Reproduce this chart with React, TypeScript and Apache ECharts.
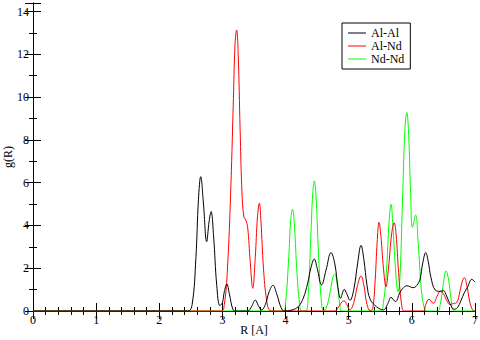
import React, { useEffect, useRef } from "react";
import * as echarts from "echarts";

const seriesNames = ["Al-Al", "Al-Nd", "Nd-Nd"];
const seriesColors = ["#000000", "#ff0000", "#00ff00"];

const alAl: [number, number][] = [
  [0, 0], [2.45, 0], [2.52, 0.3], [2.58, 2.5], [2.62, 5.2], [2.656, 6.28], [2.7, 5.0], [2.75, 3.24],
  [2.79, 4.2], [2.82, 4.65], [2.86, 3.5], [2.91, 1.2], [2.96, 0.25], [3.0, 0.4], [3.03, 0.9], [3.07, 1.26],
  [3.11, 0.8], [3.17, 0.05], [3.22, 0], [3.4, 0], [3.46, 0.2], [3.52, 0.51], [3.57, 0.25], [3.62, 0.05],
  [3.68, 0.3], [3.74, 0.9], [3.8, 1.2], [3.86, 0.8], [3.93, 0.15], [3.98, 0], [4.1, 0.05], [4.2, 0.2],
  [4.28, 0.6], [4.35, 1.3], [4.4, 2.0], [4.455, 2.43], [4.5, 2.0], [4.57, 1.22], [4.64, 1.9], [4.72, 2.73],
  [4.78, 2.2], [4.83, 1.1], [4.87, 0.6], [4.93, 1.01], [4.97, 0.8], [5.02, 0.5], [5.08, 1.0], [5.14, 2.2],
  [5.195, 3.07], [5.24, 2.4], [5.29, 1.2], [5.34, 0.55], [5.44, 0.2], [5.55, 0.05], [5.62, 0.35], [5.67, 0.64],
  [5.74, 0.44], [5.81, 0.86], [5.87, 1.1], [5.92, 1.18], [6.02, 1.09], [6.08, 1.2], [6.13, 1.5], [6.17, 2.2],
  [6.22, 2.73], [6.26, 2.3], [6.3, 1.6], [6.37, 0.98], [6.45, 0.92], [6.5, 0.95], [6.55, 0.7], [6.6, 0.36],
  [6.67, 0.08], [6.72, 0.15], [6.78, 0.5], [6.83, 0.85], [6.88, 1.1], [6.95, 1.48], [7.0, 1.35],
];

const alNd: [number, number][] = [
  [0, 0], [2.98, 0], [3.03, 0.3], [3.08, 2.0], [3.13, 5.5], [3.17, 9.5], [3.2, 12.5], [3.225, 13.14],
  [3.25, 12.0], [3.28, 8.5], [3.31, 5.5], [3.34, 4.4], [3.37, 4.25], [3.4, 3.9], [3.44, 2.3], [3.48, 1.06],
  [3.52, 2.5], [3.555, 4.4], [3.585, 5.04], [3.61, 4.2], [3.65, 2.0], [3.7, 0.5], [3.75, 0.02], [3.8, 0],
  [4.78, 0], [4.84, 0.2], [4.9, 0.45], [4.93, 0.47], [4.97, 0.3], [5.02, 0.05], [5.08, 0.4], [5.14, 1.2],
  [5.195, 1.64], [5.24, 1.2], [5.29, 0.3], [5.34, 0.02], [5.38, 0.1], [5.42, 1.5], [5.45, 3.2], [5.48, 4.15],
  [5.51, 3.5], [5.55, 2.0], [5.59, 1.14], [5.63, 2.0], [5.68, 3.6], [5.72, 4.13], [5.75, 3.6], [5.79, 1.8],
  [5.84, 0.25], [5.88, 0], [6.18, 0], [6.22, 0.3], [6.27, 0.55], [6.34, 0.36], [6.4, 0.7], [6.45, 0.92],
  [6.5, 0.8], [6.56, 0.45], [6.6, 0.3], [6.66, 0.35], [6.71, 0.39], [6.76, 0.9], [6.8, 1.4], [6.83, 1.56],
  [6.87, 1.2], [6.92, 0.4], [6.97, 0.02], [7.0, 0],
];

const ndNd: [number, number][] = [
  [0, 0], [3.96, 0], [4.0, 0.4], [4.05, 2.5], [4.08, 4.2], [4.11, 4.76], [4.14, 4.0], [4.18, 1.8],
  [4.22, 0.4], [4.255, 0], [4.32, 0], [4.36, 0.8], [4.4, 3.5], [4.43, 5.5], [4.455, 6.08], [4.48, 5.5],
  [4.52, 2.8], [4.56, 0.7], [4.6, 0.02], [4.64, 0.1], [4.7, 0.8], [4.75, 1.6], [4.78, 1.73], [4.82, 1.2],
  [4.86, 0.3], [4.89, 0], [5.5, 0], [5.55, 0.4], [5.6, 2.0], [5.64, 4.2], [5.67, 4.99], [5.7, 4.0],
  [5.74, 2.0], [5.78, 0.9], [5.81, 1.5], [5.85, 5.0], [5.89, 8.5], [5.92, 9.28], [5.95, 8.2], [5.98, 5.5],
  [6.01, 3.91], [6.06, 4.49], [6.1, 3.2], [6.15, 1.0], [6.2, 0.1], [6.23, 0], [6.41, 0], [6.45, 0.3],
  [6.5, 1.3], [6.54, 1.87], [6.58, 1.5], [6.62, 0.6], [6.67, 0], [7, 0],
];

const seriesData = [alAl, alNd, ndNd];

const X_MIN = 0;
const X_MAX = 7;
const Y_MIN = 0;
const Y_MAX = 14.4;
const xTitle = "R [A]";
const yTitle = "g(R)";

const FONT = "Liberation Serif";

export default function App() {
  const ref = useRef<HTMLDivElement>(null);
  useEffect(() => {
    if (!ref.current) return;
    const chart = echarts.init(ref.current, undefined, { renderer: "svg" });
    const tickCommon = {
      axisLine: { show: true, lineStyle: { color: "#000", width: 1 } },
      axisTick: { show: true, inside: true, length: 8, lineStyle: { color: "#000", width: 1 } },
      minorTick: { show: true, length: 4, lineStyle: { color: "#000", width: 1 } },
      splitLine: { show: false },
    };
    chart.setOption({
      animation: false,
      backgroundColor: "#ffffff",
      textStyle: { fontFamily: FONT },
      grid: { left: 33, right: 5, top: 3, bottom: 29, containLabel: false, outerBoundsMode: "none" },
      legend: {
        left: 342,
        top: 23,
        orient: "vertical",
        icon: "rect",
        itemWidth: 18,
        itemHeight: 1,
        itemGap: 1,
        padding: [4, 6, 4, 6],
        borderColor: "#000",
        borderWidth: 1,
        backgroundColor: "#fff",
        textStyle: { fontFamily: FONT, fontSize: 12, color: "#000" },
        data: seriesNames,
      },
      xAxis: [
        {
          type: "value",
          min: X_MIN,
          max: X_MAX,
          interval: 1,
          name: xTitle,
          nameLocation: "middle",
          nameGap: 13,
          nameMoveOverlap: false,
          nameTextStyle: { fontFamily: FONT, fontSize: 12, color: "#000", verticalAlign: "top" },
          axisLabel: { fontFamily: FONT, fontSize: 12, color: "#000", margin: 3 },
          ...tickCommon,
          minorTick: { ...tickCommon.minorTick, splitNumber: 5 },
        },
        {
          type: "value",
          position: "top",
          min: X_MIN,
          max: X_MAX,
          interval: 1,
          axisLabel: { show: false },
          ...tickCommon,
          minorTick: { ...tickCommon.minorTick, splitNumber: 5 },
        },
      ],
      yAxis: [
        {
          type: "value",
          min: Y_MIN,
          max: Y_MAX,
          interval: 2,
          name: yTitle,
          nameLocation: "middle",
          nameGap: 19,
          nameMoveOverlap: false,
          nameTextStyle: { fontFamily: FONT, fontSize: 12, color: "#000", verticalAlign: "bottom" },
          axisLabel: { fontFamily: FONT, fontSize: 12, color: "#000", margin: 4, showMaxLabel: false },
          ...tickCommon,
          minorTick: { ...tickCommon.minorTick, splitNumber: 2 },
        },
        {
          type: "value",
          position: "right",
          min: Y_MIN,
          max: Y_MAX,
          interval: 2,
          axisLabel: { show: false },
          ...tickCommon,
          minorTick: { ...tickCommon.minorTick, splitNumber: 2 },
        },
      ],
      series: seriesNames.map((name, i) => ({
        name,
        type: "line",
        xAxisIndex: 0,
        yAxisIndex: 0,
        data: seriesData[i],
        showSymbol: false,
        symbol: "none",
        smooth: 0.4,
        color: seriesColors[i],
        lineStyle: { color: seriesColors[i], width: 1 },
        z: 3 - i,
      })),
    });
    return () => chart.dispose();
  }, []);
  return <div ref={ref} style={{ width: 480, height: 340, position: "absolute", left: 0, top: 0 }} />;
}
